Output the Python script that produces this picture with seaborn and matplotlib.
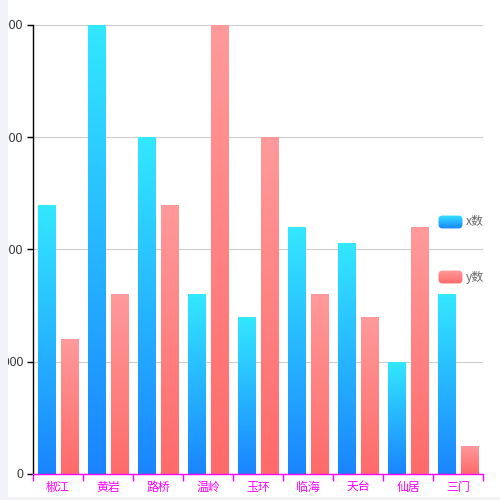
import numpy as np
import pandas as pd
import matplotlib
matplotlib.use("Agg")
import matplotlib.pyplot as plt
import seaborn as sns
from matplotlib.colors import LinearSegmentedColormap
from matplotlib.patches import Rectangle, FancyBboxPatch

# data
cities = ["椒江", "黄岩", "路桥", "温岭", "玉环", "临海", "天台", "仙居", "三门"]
x_counts = [2400, 4000, 3000, 1600, 1400, 2200, 2060, 1000, 1600]
y_counts = [1200, 1600, 2400, 4000, 3000, 1600, 1400, 2200, 250]
series = ["x数", "y数"]
y_ticks = [0, 1000, 2000, 3000, 4000]

# gradient colours (bottom, top)
grad = {
    "x数": ("#1a84ff", "#33e8ff"),
    "y数": ("#ff6a6a", "#ff9a9a"),
}

sns.set_theme(style="white")
plt.rcParams["font.family"] = ["Noto Sans CJK SC", "DejaVu Sans"]

df = pd.DataFrame({
    "city": cities * 2,
    "value": x_counts + y_counts,
    "series": [series[0]] * len(cities) + [series[1]] * len(cities),
})

fig = plt.figure(figsize=(5, 5), dpi=100, facecolor="white")
ax = fig.add_axes([33 / 500, 26 / 500, 450 / 500, 449 / 500])

sns.barplot(data=df, x="city", y="value", hue="series", order=cities,
            hue_order=series, palette=[grad[s][0] for s in series],
            width=0.9, gap=0.24, legend=False, ax=ax, zorder=2)

# swap flat fills for vertical gradients
for container, s in zip(ax.containers, series):
    cmap = LinearSegmentedColormap.from_list(s, list(grad[s]))
    for bar in container:
        x0, w, h = bar.get_x(), bar.get_width(), bar.get_height()
        im = ax.imshow(np.linspace(0, 1, 256).reshape(-1, 1), cmap=cmap,
                       origin="lower", aspect="auto",
                       extent=[x0, x0 + w, 0, h], zorder=2)
        im.set_clip_path(bar)
        bar.set_facecolor("none")
        bar.set_edgecolor("#ffffff")
        bar.set_linewidth(0.6)

ax.set_xlim(-0.5, len(cities) - 0.5)
ax.set_ylim(0, 4000)
ax.set_yticks(y_ticks)
ax.set_yticklabels([str(v) for v in y_ticks], family="Liberation Sans")
ax.set_xlabel("")
ax.set_ylabel("")
ax.grid(axis="y", color="#cccccc", linewidth=0.8, zorder=0)
ax.set_axisbelow(True)

for side in ["top", "right"]:
    ax.spines[side].set_visible(False)
ax.spines["left"].set_color("black")
ax.spines["left"].set_linewidth(1)
ax.spines["bottom"].set_color("#ff00ff")
ax.spines["bottom"].set_linewidth(1)

ax.tick_params(axis="y", left=True, length=4, width=1, color="black",
               labelsize=8.8, labelcolor="#333333", pad=3)
ax.set_xticks(np.arange(-0.5, len(cities)), minor=True)
ax.tick_params(axis="x", which="major", length=0, labelsize=8.6,
               labelcolor="#ff00ff", pad=5)
ax.tick_params(axis="x", which="minor", bottom=True, length=5, width=1,
               color="#ff00ff")

# legend with rounded gradient swatches
for s, ytop in zip(series, [215, 270]):
    lax = fig.add_axes([438 / 500, 1 - (ytop + 14) / 500, 25 / 500, 14 / 500])
    lax.set_axis_off()
    cmap = LinearSegmentedColormap.from_list("l" + s, list(grad[s]))
    im = lax.imshow(np.linspace(0, 1, 64).reshape(-1, 1), cmap=cmap,
                    origin="lower", aspect="auto", extent=[0, 1, 0, 1])
    box = FancyBboxPatch((0.02, 0.04), 0.96, 0.92,
                         boxstyle="round,pad=0,rounding_size=0.16",
                         transform=lax.transAxes, facecolor="none",
                         edgecolor="none", mutation_aspect=25 / 14)
    lax.add_patch(box)
    im.set_clip_path(box)
    fig.text(466 / 500, 1 - (ytop + 7) / 500, s, fontsize=8.6,
             color="#666666", va="center", ha="left")

# page background strips framing the white card
fig.patches.append(Rectangle((0, 0), 8 / 500, 1, transform=fig.transFigure,
                             facecolor="#f2f3f8", edgecolor="none", zorder=10))
fig.patches.append(Rectangle((0, 0), 1, 3 / 500, transform=fig.transFigure,
                             facecolor="#f2f3f8", edgecolor="none", zorder=10))

fig.savefig("out.png", dpi=100)
